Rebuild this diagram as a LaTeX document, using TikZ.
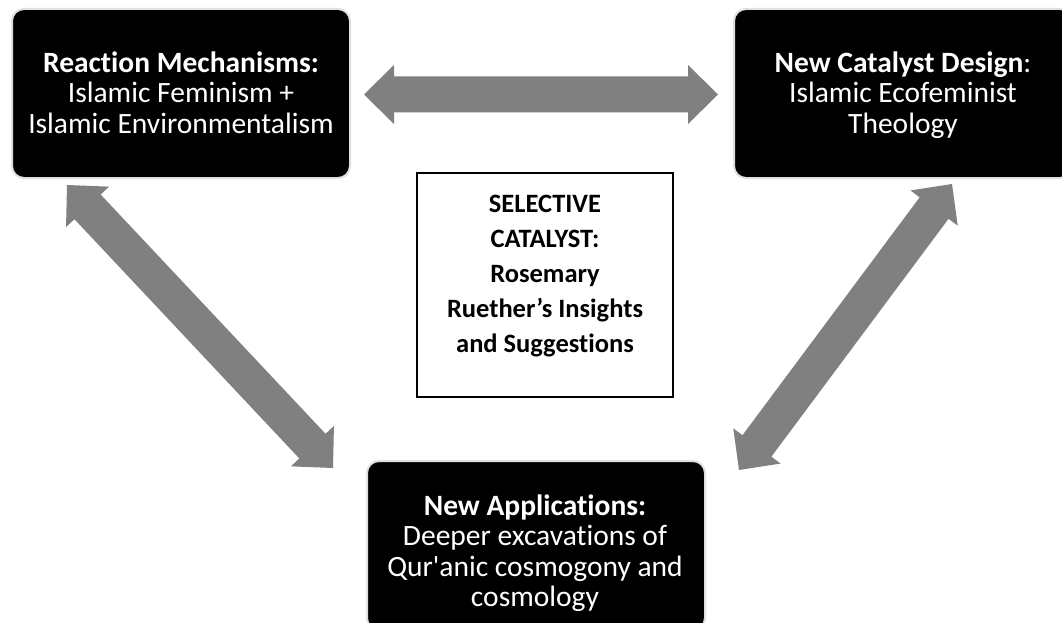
\documentclass[tikz,border=0pt]{standalone}
\usepackage{fontspec}
\setmainfont{Carlito}[Ligatures={NoCommon}]
\usetikzlibrary{calc}
\definecolor{arrowgray}{HTML}{808080}
\definecolor{rimgray}{HTML}{E0E0E0}
\newcommand{\twowayarrow}[2]{%
  \coordinate (hA) at ($(#1)!30pt!(#2)$);
  \coordinate (hB) at ($(#2)!30pt!(#1)$);
  \fill[arrowgray] (#1) -- ($(hA)!29.5pt!90:(#2)$) -- ($(hA)!18pt!90:(#2)$)
    -- ($(hB)!18pt!-90:(#1)$) -- ($(hB)!29.5pt!-90:(#1)$) -- (#2)
    -- ($(hB)!29.5pt!90:(#1)$) -- ($(hB)!18pt!90:(#1)$)
    -- ($(hA)!18pt!-90:(#2)$) -- ($(hA)!29.5pt!-90:(#2)$) -- cycle;}
\newcommand{\toprule}{\rule{0pt}{22pt}}
\begin{document}
\begin{tikzpicture}[x=1pt,y=-1pt,
  darkbox/.style={draw=rimgray, line width=2pt, fill=black, rounded corners=12pt,
    minimum width=338pt, minimum height=169pt, inner sep=0pt},
  darktext/.style={text=white, align=center, anchor=north,
    font=\fontsize{29.5}{30.5}\selectfont, inner sep=0pt},
  catbox/.style={draw=black, line width=2pt, minimum width=256pt, minimum height=224pt, inner sep=0pt},
  cattext/.style={align=center, anchor=north, font=\fontsize{26.5}{35}\selectfont\bfseries, inner sep=0pt}]
\useasboundingbox (0,0) rectangle (1062,623);
\clip (0,0) rectangle (1062,623);
\fill[white] (0,0) rectangle (1062,623);

\node[darkbox] (mech) at (181,93.5) {};
\node[darktext] (mechtext) at (181,50) {\toprule\textbf{Reaction Mechanisms:}\\Islamic Feminism +\\Islamic Environmentalism};
\node[darkbox] (design) at (903,93.5) {};
\node[darktext] (designtext) at (903,50) {\toprule\textbf{New Catalyst Design}:\\Islamic Ecofeminist\\Theology};
\node[darkbox] (apps) at (536,545.5) {};
\node[darktext] (appstext) at (535,493) {\toprule\textbf{New Applications:}\\Deeper excavations of\\Qur\textquotesingle anic cosmogony and\\cosmology};
\node[catbox] (catalyst) at (545,285) {};
\node[cattext] (catalysttext) at (545,195) {SELECTIVE\\CATALYST:\\Rosemary\\Ruether’s Insights\\and Suggestions};

\coordinate (h1) at (364,94.5);
\coordinate (h2) at (718,94.5);
\coordinate (l1) at (67,185);
\coordinate (l2) at (333,468);
\coordinate (r1) at (952,184);
\coordinate (r2) at (739,470);
\twowayarrow{h1}{h2}
\twowayarrow{l1}{l2}
\twowayarrow{r1}{r2}
\end{tikzpicture}
\end{document}
